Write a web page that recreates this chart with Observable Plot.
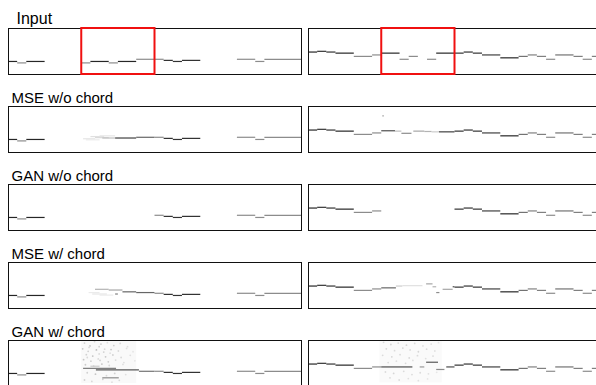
<!DOCTYPE html>
<html>
<head>
<meta charset="utf-8">
<script src="https://cdn.jsdelivr.net/npm/d3@7"></script>
<script src="https://cdn.jsdelivr.net/npm/@observablehq/plot@0.6"></script>
<style>
  html, body { margin: 0; padding: 0; background: #fff; }
  #wrap { width: 596px; height: 385px; overflow: hidden; }
  #wrap svg { max-width: none !important; }
</style>
</head>
<body>
<div id="wrap"></div>
<script>
// ---- data ----
const rowTitles = ["Input", "MSE w/o chord", "GAN w/o chord", "MSE w/ chord", "GAN w/ chord"];
const panels = ["L", "R"];
const steps = [0, 32];          // time steps per panel
const pitchRange = [0, 127];    // MIDI pitch range
const mask = [8, 16];           // masked (in-painted) steps

// notes: [start step, end step, pitch, intensity]
const inputLeft = [
  [0,1,36,.85],[1,2,32,.45],[2,4,36,.85],
  [8,9,32,.45],[9,11,36,.85],[11,12,32,.45],[12,14,36,.85],[14,17,42,.45],
  [17,18,39,.8],[18,19,36,.8],[19,21,39,.8],
  [25,27,42,.45],[27,28,36,.45],[28,32,42,.45]
];
const inputRight = [
  [0,1,62,.85],[1,2,64,.8],[2,3,62,.8],[3,5,59,.85],[5,7,50,.45],[7,8,54,.45],
  [8,10,59,.85],[10,11,42,.45],[11,12,50,.45],[13,14,42,.45],[14,16,59,.85],
  [16,17,59,.8],[17,18,62,.8],[18,19,59,.8],[19,21,54,.75],[21,23,46,.85],
  [23,24,50,.55],[24,25,54,.5],[25,26,50,.5],[26,27,42,.45],[27,29,54,.55],
  [29,30,50,.5],[30,31,42,.45],[31,32,50,.5]
];

// generated notes inside the mask
const mseNoChordL = [[8.2,9.5,38,.1],[8.5,10,35,.08],[9,10.5,44,.12],[9.5,11,41,.15],[10,11.7,46,.1],[10.3,11.7,40,.25],[11.7,14,40,.75],[14,16,42,.6]];
const mseNoChordR = [[8,9.5,60,.7],[9.5,10.2,59,.25],[10.2,11.3,53,.45],[11.5,12.7,59,.35],[12.7,13.5,58,.3],[13.5,14.3,57,.2],[14.3,16,57,.75],[8.1,8.3,101,.3]];
const ganNoChordL = [];
const ganNoChordR = [];
const mseChordL = [[8.8,10,44,.08],[9.2,10.8,40,.1],[9.5,11,53,.3],[10,11.5,37,.08],[11,12.5,51,.35],[11.7,12,40,.5],[12.5,14,46,.6],[14,16,44,.6]];
const mseChordR = [[8,9.6,57,.6],[9.6,10.3,62,.2],[10.3,12.5,63,.12],[12.9,13.6,68,.35],[13.6,14,60,.3],[14,14.35,44,.45],[14.7,15.8,53,.35],[15.8,16,60,.7]];
const ganChordL = [[8.2,11.8,50,.5],[9.6,14.3,46,.65],[14.3,16,42,.55],[10.3,12.1,24,.45],[9,10,56,.2]];
const ganChordR = [[8,11.4,54,.7],[12.2,12.7,54,.4],[12.9,14.2,67,.65],[14,14.9,47,.45],[15.1,16,54,.7]];

// faint haze behind the GAN w/ chord noise: [step from, step to, pitch from, pitch to, intensity]
const hazeGanL = [[8, 14, 8, 127, .025], [8.2, 11.5, 75, 127, .025]];
const hazeGanR = [[7.8, 14.6, 10, 127, .018]];

// speckle noise: [step, pitch, intensity]
const noiseGanL = [
  [8.3,120,.18],[8.9,112,.22],[9.4,124,.15],[10.1,117,.2],[10.8,121,.12],[11.5,113,.18],[12.2,119,.15],[13.0,110,.12],
  [8.1,104,.22],[8.7,97,.18],[9.6,101,.26],[10.4,95,.18],[11.2,102,.22],[12.0,98,.15],[12.9,105,.12],[13.6,96,.1],
  [8.5,88,.18],[9.2,84,.24],[9.9,90,.15],[10.6,82,.22],[11.4,87,.18],[12.3,80,.15],[13.3,86,.12],
  [8.2,74,.22],[9.0,70,.18],[9.8,76,.15],[10.9,68,.2],[11.7,73,.15],[12.6,66,.12],[13.8,71,.1],
  [8.4,60,.2],[9.3,56,.18],[10.2,62,.22],[11.0,58,.15],[12.5,61,.12],
  [8.6,38,.18],[9.5,34,.22],[10.7,30,.15],[11.6,36,.18],[12.8,33,.12],
  [8.3,18,.18],[9.1,14,.15],[10.3,20,.18],[11.3,12,.12],[12.1,17,.15],
  [8.8,108,.15],[9.9,110,.18],[10.5,103,.15],[8.6,80,.15],[10.0,72,.18],[11.1,92,.12]
];
const noiseGanR = [
  [8.2,122,.14],[9.0,116,.16],[9.8,120,.14],[10.7,114,.16],[11.6,119,.14],[12.5,112,.12],[13.4,117,.12],[14.2,121,.1],
  [8.5,104,.16],[9.4,99,.14],[10.3,106,.16],[11.1,101,.14],[12.0,96,.16],[12.9,103,.14],[13.8,98,.12],
  [8.1,86,.14],[9.1,82,.16],[10.0,88,.14],[11.0,79,.16],[11.9,85,.14],[12.8,77,.12],[13.6,84,.14],
  [8.7,66,.14],[9.6,70,.12],[10.6,64,.14],[11.4,72,.12],
  [8.4,40,.14],[9.3,36,.16],[10.4,42,.14],[11.3,33,.14],[12.2,38,.14],[13.1,35,.12],[14.0,39,.1],
  [8.9,24,.14],[9.9,18,.14],[10.9,22,.12],[12.0,16,.12],[13.0,21,.1]
];

// ---- build tables ----
const generated = {
  "MSE w/o chord": {L: mseNoChordL, R: mseNoChordR},
  "GAN w/o chord": {L: ganNoChordL, R: ganNoChordR},
  "MSE w/ chord": {L: mseChordL, R: mseChordR},
  "GAN w/ chord": {L: ganChordL, R: ganChordR}
};
const inputs = {L: inputLeft, R: inputRight};
const notes = [];
for (const row of rowTitles) {
  for (const pn of panels) {
    for (const [s, e, p, v] of inputs[pn]) {
      if (row === "Input") { notes.push({fy: row, fx: pn, s, e, p, v}); continue; }
      if (s < mask[0]) notes.push({fy: row, fx: pn, s, e: Math.min(e, mask[0]), p, v});
      if (e > mask[1]) notes.push({fy: row, fx: pn, s: Math.max(s, mask[1]), e, p, v});
    }
    if (row !== "Input") {
      for (const [s, e, p, v] of generated[row][pn]) notes.push({fy: row, fx: pn, s, e, p, v});
    }
  }
}
const noise = [
  ...noiseGanL.map(([t, p, v]) => ({fy: "GAN w/ chord", fx: "L", t, p, v})),
  ...noiseGanR.map(([t, p, v]) => ({fy: "GAN w/ chord", fx: "R", t, p, v}))
];
const haze = [
  ...hazeGanL.map(([x1, x2, y1, y2, v]) => ({fy: "GAN w/ chord", fx: "L", x1, x2, y1, y2, v})),
  ...hazeGanR.map(([x1, x2, y1, y2, v]) => ({fy: "GAN w/ chord", fx: "R", x1, x2, y1, y2, v}))
];
const maskBoxes = panels.map(pn => ({fy: "Input", fx: pn, x1: mask[0], x2: mask[1], y1: pitchRange[0], y2: pitchRange[1]}));
const titles = rowTitles.map(t => ({fy: t, fx: "L", t}));

const chart = Plot.plot({
  width: 610,
  height: 390,
  marginTop: 28,
  marginBottom: 4,
  marginLeft: 8,
  marginRight: 9,
  x: {domain: steps, axis: null},
  y: {domain: pitchRange, axis: null},
  fx: {domain: panels, axis: null, paddingInner: 7 / 300, paddingOuter: 0},
  fy: {domain: rowTitles, axis: null, paddingInner: 32 / 78, paddingOuter: 0},
  color: {type: "linear", domain: [0, 1], range: ["#ffffff", "#000000"]},
  style: {fontFamily: "'Liberation Sans', Arial, sans-serif", background: "white", overflow: "visible", maxWidth: "none"},
  marks: [
    Plot.rect(haze, {x1: "x1", x2: "x2", y1: "y1", y2: "y2", fill: "v", fx: "fx", fy: "fy"}),
    Plot.dot(noise, {x: "t", y: "p", fill: "v", r: 0.9, fx: "fx", fy: "fy"}),
    Plot.ruleY(notes, {x1: "s", x2: "e", y: "p", stroke: "v", strokeWidth: 1.2, fx: "fx", fy: "fy"}),
    Plot.frame({stroke: "#111", strokeWidth: 1}),
    Plot.rect(maskBoxes, {x1: "x1", x2: "x2", y1: "y1", y2: "y2", fx: "fx", fy: "fy", fill: "none", stroke: "#f01010", strokeWidth: 2}),
    Plot.text(titles.filter(d => d.t === "Input"), {text: "t", fx: "fx", fy: "fy", frameAnchor: "top-left", textAnchor: "start", lineAnchor: "bottom", dx: 8, dy: -5, fontSize: 16, fill: "#000"}),
    Plot.text(titles.filter(d => d.t !== "Input"), {text: "t", fx: "fx", fy: "fy", frameAnchor: "top-left", textAnchor: "start", lineAnchor: "bottom", dx: 3, dy: -4, fontSize: 15, fill: "#000"})
  ]
});
chart.style.maxWidth = "none";
document.getElementById("wrap").appendChild(chart);
</script>
</body>
</html>
